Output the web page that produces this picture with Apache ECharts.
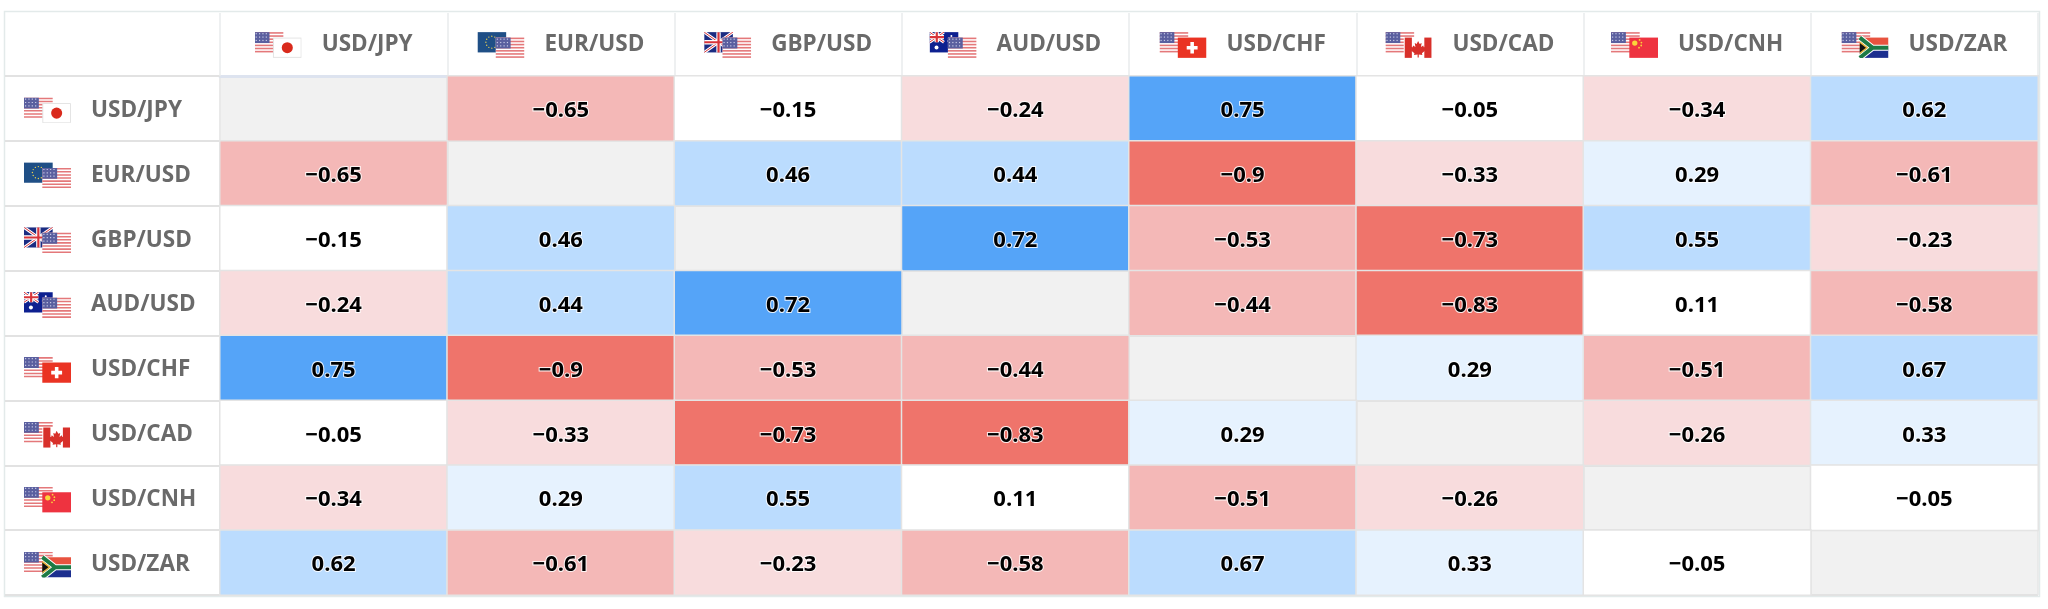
<!DOCTYPE html>
<html><head><meta charset="utf-8">
<style>html,body{margin:0;padding:0;background:#fff}#c{width:2048px;height:609px}</style>
<script src="https://cdn.jsdelivr.net/npm/echarts@6/dist/echarts.min.js"></script>
</head><body><div id="c"></div>
<script>
const pairs = ['USD/JPY','EUR/USD','GBP/USD','AUD/USD','USD/CHF','USD/CAD','USD/CNH','USD/ZAR'];
const usdJpy = [null,-0.65,-0.15,-0.24,0.75,-0.05,-0.34,0.62];
const eurUsd = [-0.65,null,0.46,0.44,-0.9,-0.33,0.29,-0.61];
const gbpUsd = [-0.15,0.46,null,0.72,-0.53,-0.73,0.55,-0.23];
const audUsd = [-0.24,0.44,0.72,null,-0.44,-0.83,0.11,-0.58];
const usdChf = [0.75,-0.9,-0.53,-0.44,null,0.29,-0.51,0.67];
const usdCad = [-0.05,-0.33,-0.73,-0.83,0.29,null,-0.26,0.33];
const usdCnh = [-0.34,0.29,0.55,0.11,-0.51,-0.26,null,-0.05];
const usdZar = [0.62,-0.61,-0.23,-0.58,0.67,0.33,-0.05,null];
const rows = [usdJpy,eurUsd,gbpUsd,audUsd,usdChf,usdCad,usdCnh,usdZar];
const cells = [];
rows.forEach((r,y)=>r.forEach((v,x)=>{ if(v!==null) cells.push([x,y,v]); }));

// --- small flag pictures used as label icons ---
function us(x,y){
  let s=`<g transform="translate(${x},${y})"><rect width="29" height="20.5" fill="#fff"/>`;
  for(let i=0;i<7;i++) s+=`<rect y="${i*3.15}" width="29" height="1.6" fill="#e4787a"/>`;
  s+=`<rect width="15" height="11" fill="#5a5f9f"/>`;
  for(let i=0;i<4;i++)for(let j=0;j<3;j++) s+=`<rect x="${1+i*3.4}" y="${1+j*3.4}" width="1.2" height="1.2" fill="#c9cbe6"/>`;
  return s+'</g>';
}
function union(w,h){
  return `<rect width="${w}" height="${h}" fill="#1b2c82"/>`+
   `<path d="M0 0L${w} ${h}M${w} 0L0 ${h}" stroke="#fff" stroke-width="3"/>`+
   `<path d="M0 0L${w} ${h}M${w} 0L0 ${h}" stroke="#d8343a" stroke-width="1"/>`+
   `<path d="M${w/2} 0V${h}M0 ${h/2}H${w}" stroke="#fff" stroke-width="4.4"/>`+
   `<path d="M${w/2} 0V${h}M0 ${h/2}H${w}" stroke="#d8343a" stroke-width="2.2"/>`;
}
const g=(x,y,s)=>`<g transform="translate(${x},${y})">${s}</g>`;
const front={
 JPY:`<rect x=".5" y=".5" width="28" height="19.5" fill="#fff" stroke="#e4e4e4"/><circle cx="14.5" cy="10.2" r="5.6" fill="#d92a1c"/>`,
 CHF:`<rect width="29" height="20.5" fill="#ea3323"/><path d="M14.5 4.5V16M9 10.2H20" stroke="#fff" stroke-width="3.6"/>`,
 CAD:`<rect width="29" height="20.5" fill="#fff"/><rect x="1" width="7.2" height="20.5" fill="#d8302a"/><rect x="20.8" width="7.2" height="20.5" fill="#d8302a"/><path d="M14.5 3.5l1.6 3 2-.9-.7 4 2.3-1.6 .6 1.7 2-.3-.8 2.6 .9 .6-4 3.2 .4 1.8-3.6-.5v3h-1.2v-3l-3.6 .5 .4-1.8-4-3.2 .9-.6-.8-2.6 2 .3 .6-1.7 2.3 1.6-.7-4 2 .9z" fill="#d8302a"/>`,
 CNH:`<rect width="29" height="20.5" fill="#ee3340"/><circle cx="5.5" cy="5.6" r="2.7" fill="#fbd43a"/><circle cx="10.4" cy="2.4" r=".9" fill="#fbd43a"/><circle cx="12.2" cy="5" r=".9" fill="#fbd43a"/><circle cx="12" cy="8" r=".9" fill="#fbd43a"/><circle cx="9.8" cy="10.2" r=".9" fill="#fbd43a"/>`,
 ZAR:`<rect width="29" height="10.2" fill="#e8533f"/><rect y="10.2" width="29" height="10.3" fill="#1c2f8f"/><path d="M0 0L13 10.2L0 20.5M13 10.2H29" stroke="#fff" stroke-width="6" fill="none"/><path d="M0 0L13 10.2L0 20.5M13 10.2H29" stroke="#1d7a45" stroke-width="4" fill="none"/><path d="M0 3.6L8.5 10.2L0 16.8z" fill="#e9b93a"/><path d="M0 5.4L6.2 10.2L0 15z" fill="#111"/>`
};
let euStars='';
for(let i=0;i<12;i++){const a=i*Math.PI/6;euStars+=`<circle cx="${14.5+6*Math.cos(a)}" cy="${10.2+6*Math.sin(a)}" r=".7" fill="#e8cf52"/>`;}
const back={
 EUR:`<rect width="29" height="20.5" fill="#1f4f86"/>`+euStars,
 GBP:union(29,20.5),
 AUD:`<rect width="29" height="20.5" fill="#0d2090"/>`+union(14.5,10.2)+`<circle cx="7" cy="15.5" r="2" fill="#fff"/><circle cx="22" cy="4" r="1" fill="#fff"/><circle cx="25.5" cy="8" r="1" fill="#fff"/><circle cx="19" cy="9" r="1" fill="#fff"/><circle cx="22" cy="16" r="1" fill="#fff"/>`
};
function flagUri(pair){
  const [a,b]=pair.split('/');
  let body;
  if(a==='USD') body=us(0,0)+g(18.5,5.5,front[b]);
  else body=g(0,0,back[a])+us(18.5,5.5);
  const svg=`<svg xmlns="http://www.w3.org/2000/svg" width="94" height="52" viewBox="0 0 47.5 26">${body}</svg>`;
  return 'data:image/svg+xml;charset=utf-8,'+encodeURIComponent(svg);
}
const rich={ t:{fontFamily:'Open Sans',fontWeight:700,fontSize:22.5,color:'#6a6a6a',padding:[0,0,0,20],height:26,lineHeight:26} };
pairs.forEach((p,i)=>{ rich['f'+i]={backgroundColor:{image:flagUri(p)},width:47,height:26}; });
const pairLabel=v=>`{f${pairs.indexOf(v)}|}{t|${v}}`;

const chart=echarts.init(document.getElementById('c'),null,{renderer:'canvas'});
chart.setOption({
  animation:false,
  backgroundColor:'#fff',
  graphic:[{type:'rect',z:-1,shape:{x:4.5,y:11.5,width:2035,height:585},style:{fill:'#fff',stroke:'#e3eaea',lineWidth:1.5}}],
  grid:{left:220,top:76,width:1818,height:519,show:true,backgroundColor:'#f1f1f1',borderWidth:0},
  xAxis:{type:'category',position:'top',data:pairs,
    axisLine:{show:true,lineStyle:{color:'#dde3ef',width:3}},
    axisTick:{show:true,length:63,lineStyle:{color:'#e9ebed',width:1.5}},
    axisLabel:{interval:0,margin:18,formatter:pairLabel,rich},
    splitLine:{show:true,lineStyle:{color:'#e6e6e6',width:1.5}}},
  yAxis:{type:'category',inverse:true,data:pairs,
    axisLine:{show:true,lineStyle:{color:'#e8e8e8',width:1.5}},
    axisTick:{show:true,length:215,lineStyle:{color:'#e2e2e2',width:2}},
    axisLabel:{interval:0,align:'left',margin:196,padding:[4,0,0,0],formatter:pairLabel,rich},
    splitLine:{show:true,lineStyle:{color:'#e2e2e2',width:2}}},
  visualMap:{show:false,type:'piecewise',dimension:2,seriesIndex:0,pieces:[
    {gte:-1,lt:-0.7,color:'#ef746b'},
    {gte:-0.7,lt:-0.4,color:'#f4b8b7'},
    {gte:-0.4,lt:-0.2,color:'#f8dcdd'},
    {gte:-0.2,lt:0.2,color:'#ffffff'},
    {gte:0.2,lt:0.4,color:'#e6f2fe'},
    {gte:0.4,lt:0.7,color:'#bbdcfe'},
    {gte:0.7,lte:1,color:'#55a4f8'}]},
  series:[{type:'heatmap',data:cells,
    itemStyle:{borderColor:'#e4e4e4',borderWidth:1.5},
    label:{show:true,offset:[0,2.5],fontFamily:'Open Sans',fontWeight:700,fontSize:22,color:'#000',
      textBorderColor:'rgba(255,255,255,0.85)',textBorderWidth:2,
      formatter:p=>String(p.value[2]).replace('-','\u2212')}}]
});
</script></body></html>
